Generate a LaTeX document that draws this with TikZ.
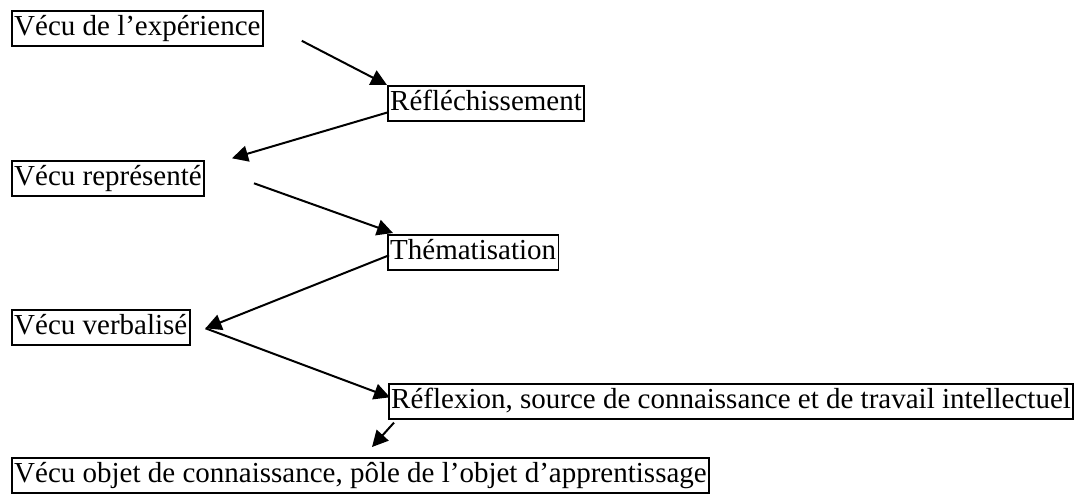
\documentclass[tikz,border=0pt]{standalone}
\usepackage{fontspec}
\setmainfont{Liberation Serif}
\usetikzlibrary{arrows.meta, positioning, calc}

\begin{document}
\begin{tikzpicture}[x=0.5pt, y=-0.5pt, >={Triangle[length=8pt, width=8pt]}]

% Styles
\tikzstyle{etape} = [rectangle, draw=black, line width=0.8pt, anchor=north west, inner xsep=1.2pt, inner ysep=0pt, minimum height=17.5pt, font=\fontsize{14.5}{17}\selectfont, text height=11pt, text depth=3.5pt]
\tikzstyle{arrow} = [line width=1pt, ->]

\useasboundingbox (0,0) rectangle (1079,496);

% --- Nodes ---
\node (vecu) [etape] at (11,10) {Vécu de l’expérience};
\node (reflechi) [etape] at (387,85) {Réfléchissement};
\node (represente) [etape] at (11,160) {Vécu représenté};
\node (themat) [etape] at (387,234) {Thématisation};
\node (verbal) [etape] at (11,309) {Vécu verbalisé};
\node (reflexion) [etape] at (388,383) {Réflexion, source de connaissance et de travail intellectuel};
\node (objet) [etape] at (11,457) {Vécu objet de connaissance, pôle de l’objet d’apprentissage};

% --- Arrows ---
\draw[arrow] ($(vecu.east)+(38,12.5)$) -- (reflechi.north west);
\draw[arrow] ($(reflechi.west)+(1,9)$) -- ($(represente.east)+(27,-20)$);
\draw[arrow] ($(represente.east)+(49,5)$) -- ($(themat.north west)+(6,-1)$);
\draw[arrow] ($(themat.west)+(2,3)$) -- ($(verbal.east)+(15,1)$);
\draw[arrow] ($(verbal.east)+(15,1)$) -- ($(reflexion.west)+(2,-4)$);
\draw[arrow] ($(reflexion.south west)+(6,3)$) -- ($(objet.north west)+(361,-10)$);

\end{tikzpicture}
\end{document}
